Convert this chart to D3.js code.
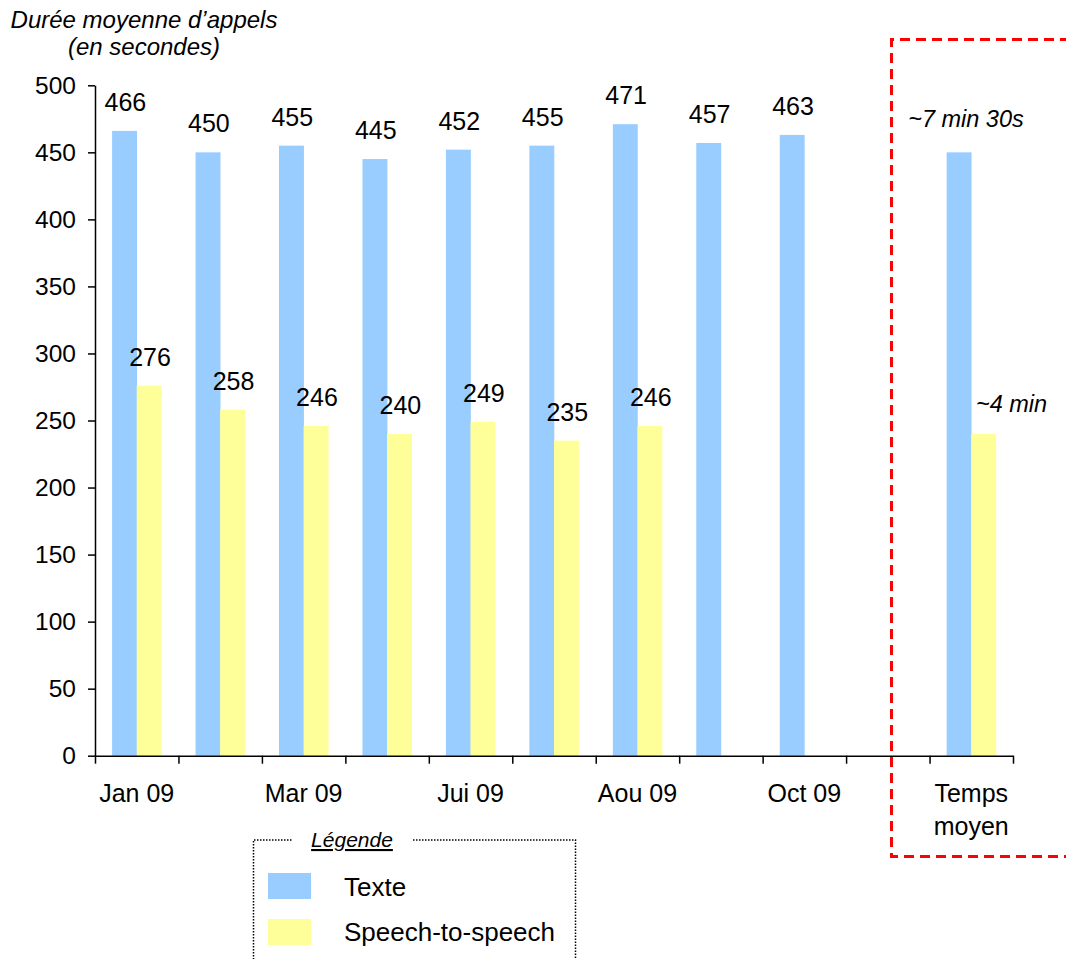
<!DOCTYPE html>
<html><head><meta charset="utf-8">
<script src="https://cdn.jsdelivr.net/npm/d3@7"></script>
<style>body{margin:0;background:#fff}svg{display:block;font-family:"Liberation Sans",Arial,sans-serif}</style>
</head><body><svg id="c" width="1066" height="959"></svg>
<script>
const categories = ["c0","c1","c2","c3","c4","c5","c6","c7","c8","c9","c10"];
const tickLabels = ["Jan 09","","Mar 09","","Jui 09","","Aou 09","","Oct 09","","Temps|moyen"];
const texte = [466,450,455,445,452,455,471,457,463,null,450];
const speech = [276,258,246,240,249,235,246,null,null,null,240];
const texteLabels = ["466","450","455","445","452","455","471","457","463","",""];
const speechLabels = ["276","258","246","240","249","235","246","","","",""];
const yTicks = [0,50,100,150,200,250,300,350,400,450,500];
const seriesNames = ["Texte","Speech-to-speech"];
const colors = ["#99CCFF","#FFFF99"];

(function(){
const svg = d3.select("#c");
const L = 95, R = 1013, T = 85.3, B = 755.7;
const x = d3.scaleBand().domain(categories).range([L,R]).paddingInner(0).paddingOuter(0);
const y = d3.scaleLinear().domain([0,500]).range([B,T]);
const groupW = x.bandwidth()*0.59;
const xs = d3.scaleBand().domain([0,1]).range([0,groupW]);
const bx = (i,si)=>x(categories[i])+(x.bandwidth()-groupW)/2+xs(si);

const g = svg.append("g");
[texte, speech].forEach((arr,si)=>{
  g.selectAll(".b"+si).data(arr.map((v,i)=>({v,i})).filter(d=>d.v!=null)).enter()
   .append("rect")
   .attr("x",d=>bx(d.i,si))
   .attr("width",xs.bandwidth()+0.3)
   .attr("y",d=>y(d.v)).attr("height",d=>B-y(d.v))
   .attr("fill",colors[si]);
});
[[texte,texteLabels],[speech,speechLabels]].forEach(([arr,labs],si)=>{
  arr.forEach((v,i)=>{
    if(v==null||!labs[i]) return;
    g.append("text").attr("x",bx(i,si)+xs.bandwidth()/2+1)
     .attr("y",y(v)-20).attr("text-anchor","middle").attr("font-size",25).text(labs[i]);
  });
});
g.append("text").attr("x",bx(10,0)+xs.bandwidth()/2+7)
 .attr("y",y(texte[10])-25).attr("text-anchor","middle").attr("font-size",23.5).attr("font-style","italic").text("~7 min 30s");
g.append("text").attr("x",bx(10,1)+xs.bandwidth()/2+28)
 .attr("y",y(speech[10])-22).attr("text-anchor","middle").attr("font-size",23.5).attr("font-style","italic").text("~4 min");

const ya = svg.append("g").attr("transform",`translate(${L},0)`)
  .call(d3.axisLeft(y).tickValues(yTicks).tickSize(7).tickPadding(12).tickSizeOuter(0));
ya.select(".domain").attr("stroke","#000").attr("stroke-width",1.5);
ya.selectAll(".tick line").attr("stroke","#000").attr("stroke-width",1.5);
ya.selectAll("text").attr("font-size",24.5).attr("fill","#000").attr("font-family","Liberation Sans, Arial, sans-serif");

const xb = d3.scaleLinear().domain([0,categories.length]).range([L,R]);
const xa = svg.append("g").attr("transform",`translate(0,${B})`)
  .call(d3.axisBottom(xb).tickValues(d3.range(categories.length+1)).tickSize(8).tickFormat("").tickSizeOuter(0));
xa.select(".domain").attr("stroke","#000").attr("stroke-width",1.5);
xa.selectAll(".tick line").attr("stroke","#000").attr("stroke-width",1.5);
categories.forEach((c,i)=>{
  const lines = tickLabels[i].split("|").filter(s=>s);
  lines.forEach((s,k)=>{
    svg.append("text").attr("x",x(c)+x.bandwidth()/2).attr("y",B+46+k*33)
      .attr("text-anchor","middle").attr("font-size",25).text(s);
  });
});

svg.append("text").attr("x",144).attr("y",28).attr("text-anchor","middle").attr("font-size",24).attr("font-style","italic").text("Durée moyenne d’appels");
svg.append("text").attr("x",144).attr("y",55).attr("text-anchor","middle").attr("font-size",24).attr("font-style","italic").text("(en secondes)");

svg.append("path").attr("d","M1070,39.5 H891.5 V856.5 H1070").attr("fill","none")
  .attr("stroke","#FF0000").attr("stroke-width",3).attr("stroke-dasharray","10,6");

const lg = svg.append("g");
lg.append("path").attr("d","M291.5,840 H253.5 V965 M413,840 H575.5 V965").attr("fill","none")
  .attr("stroke","#000").attr("stroke-width",1.5).attr("stroke-dasharray","1.5,1.5");
lg.append("text").attr("x",352).attr("y",847).attr("text-anchor","middle").attr("font-size",21)
  .attr("font-style","italic").attr("text-decoration","underline").text("Légende");
seriesNames.forEach((n,i)=>{
  lg.append("rect").attr("x",268).attr("y",873+i*46).attr("width",43).attr("height",26).attr("fill",colors[i]);
  lg.append("text").attr("x",344).attr("y",896+i*45).attr("font-size",26).text(n);
});
})();
</script></body></html>
